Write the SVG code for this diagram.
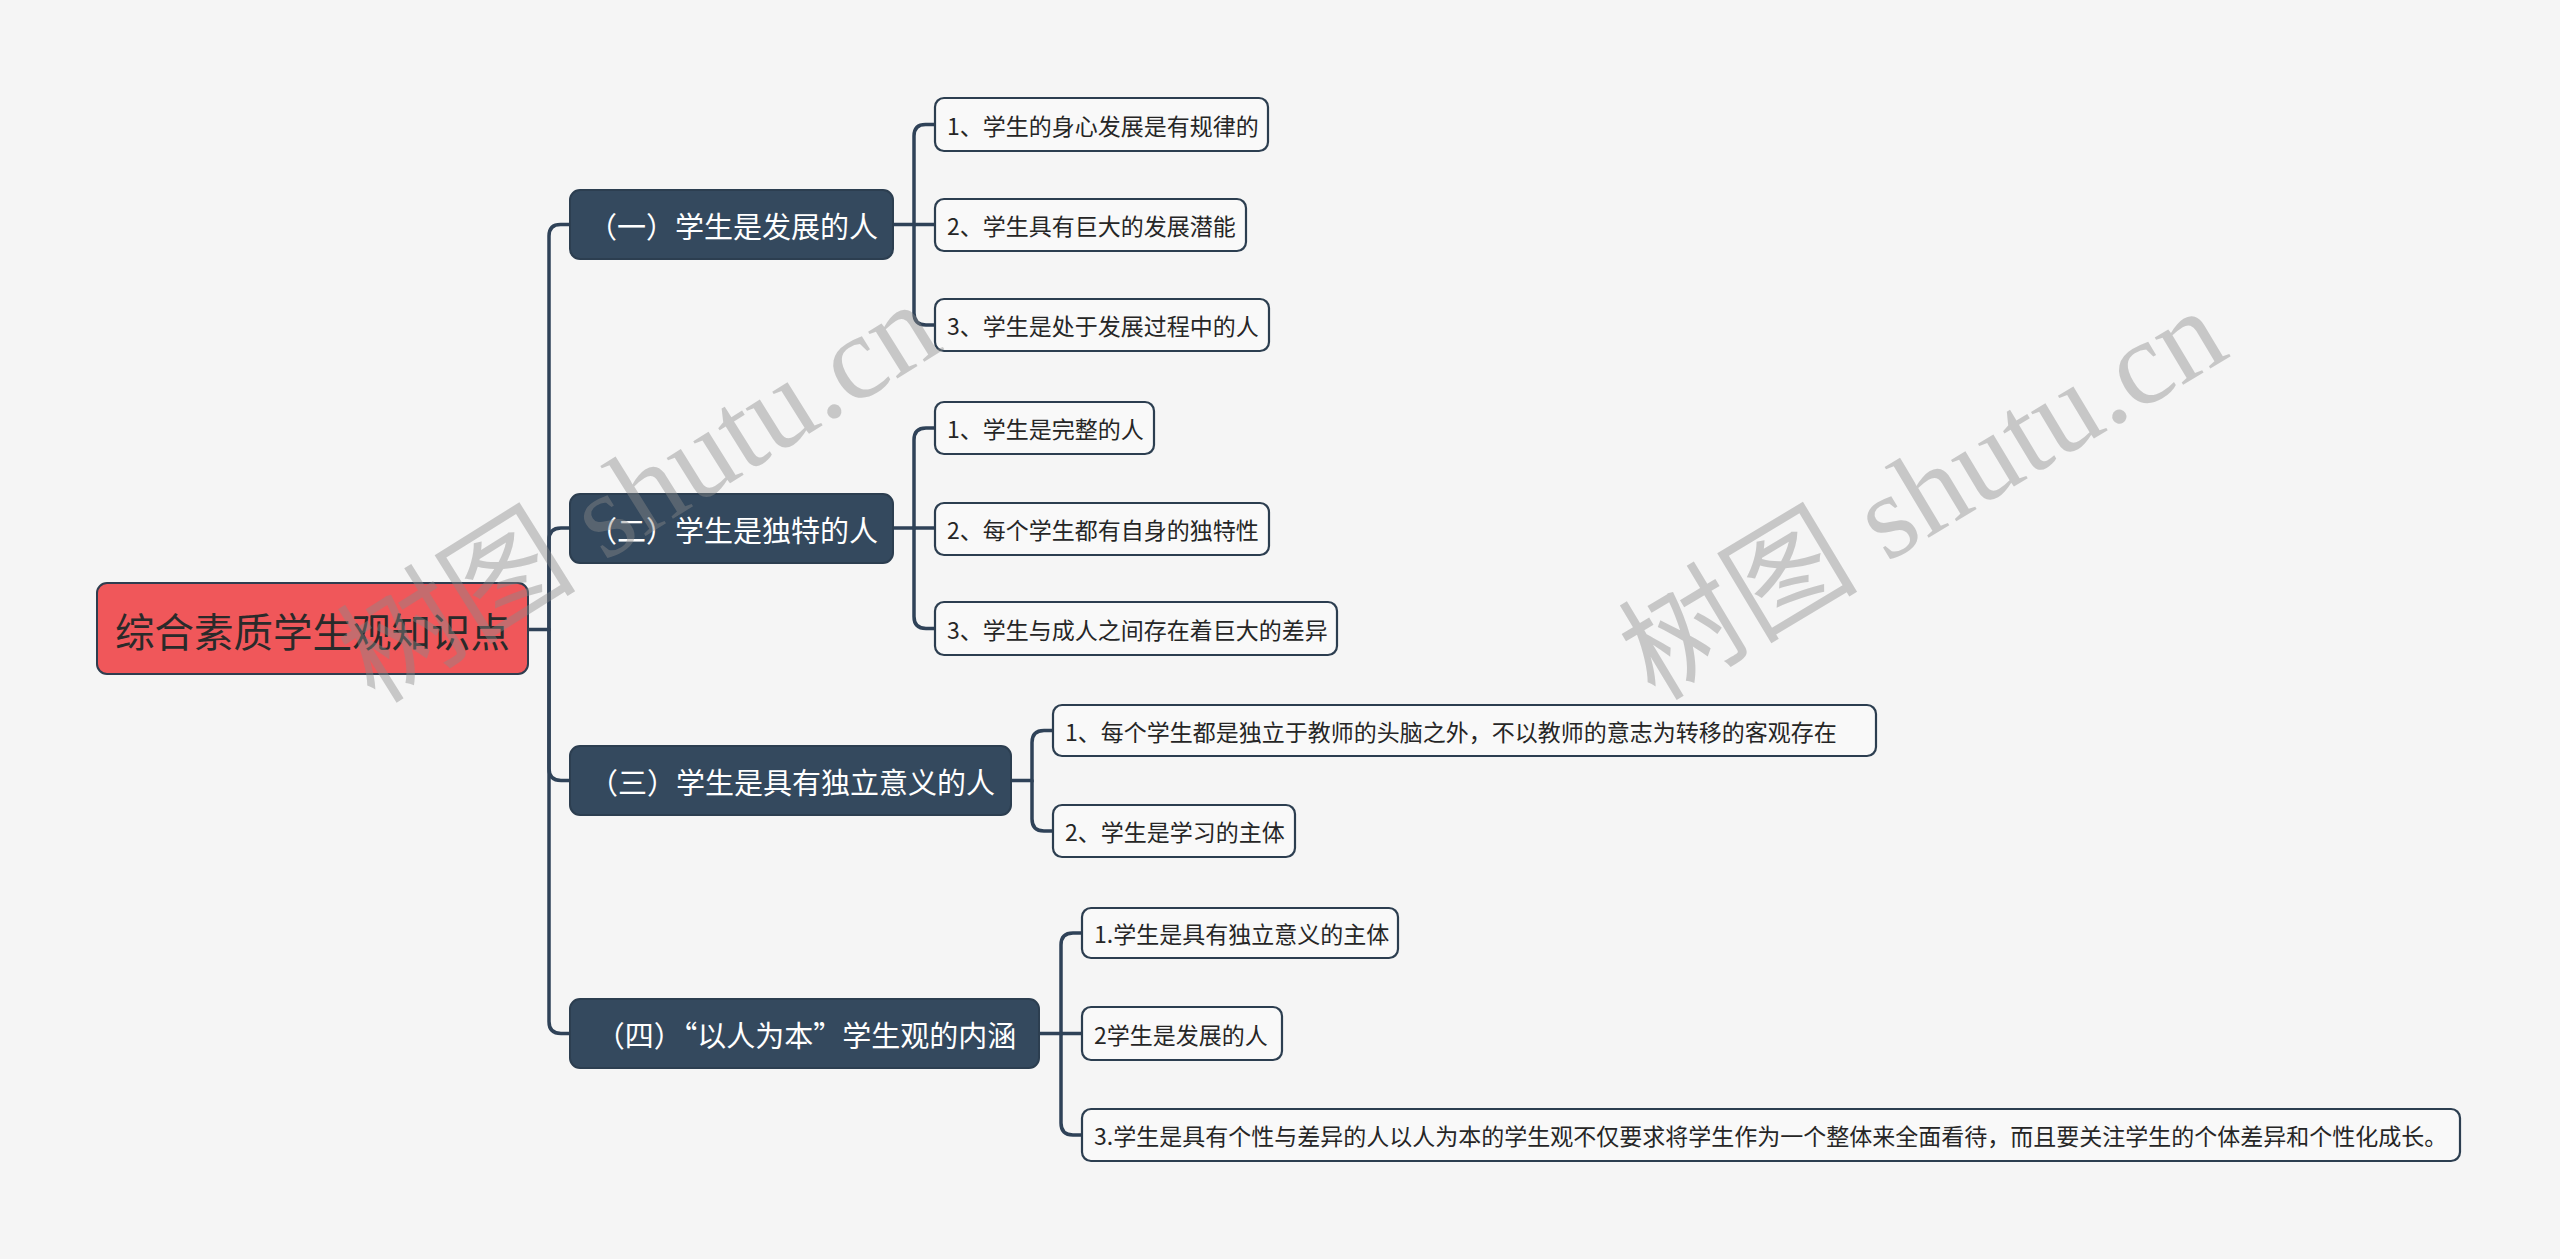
<svg xmlns="http://www.w3.org/2000/svg" width="2560" height="1259" viewBox="0 0 2560 1259">
<style>
.bg{fill:#f5f5f5}
.root rect{fill:#f0575a;stroke:#2f3d4f;stroke-width:2}
.root text{font-family:"Microsoft YaHei","Noto Sans CJK SC",sans-serif;font-size:39.5px;fill:#2a2a2a;text-anchor:middle;dominant-baseline:central}
.br rect{fill:#34495e;stroke:#2c3e50;stroke-width:2}
.br text{font-family:"Noto Sans CJK SC",sans-serif;font-size:29px;fill:#ffffff;text-anchor:middle;dominant-baseline:central}
.leaf rect{fill:#f9f9f9;stroke:#2c3e50;stroke-width:2.2}
.leaf text{font-family:"Noto Sans CJK SC",sans-serif;font-size:23px;fill:#262626;dominant-baseline:central}
.conn path{fill:none;stroke:#2f4258;stroke-width:3.5;stroke-linecap:round}
.wm{font-family:"Liberation Serif","Noto Sans CJK SC",serif;font-size:120px;fill:#8a8a8a;opacity:0.42}
</style>
<rect class="bg" x="0" y="0" width="2560" height="1259"/>

<g id="connectors" class="conn">
  <path d="M528 629.5 H549 V236 Q549 224.5 560.5 224.5 H570"/>
  <path d="M549 629.5 V540 Q549 528 561 528 H570"/>
  <path d="M549 629.5 V768.5 Q549 780.5 561 780.5 H570"/>
  <path d="M549 629.5 V1021.5 Q549 1033.5 561 1033.5 H570"/>
  <path d="M893 224.5 H914 V136 Q914 124.5 925.5 124.5 H935"/>
  <path d="M914 224.5 H935"/>
  <path d="M914 224.5 V313 Q914 325 926 325 H935"/>
  <path d="M893 528 H914 V440 Q914 428 926 428 H935"/>
  <path d="M914 528 H935"/>
  <path d="M914 528 V616.5 Q914 628.5 926 628.5 H935"/>
  <path d="M1011 780.5 H1032 V742.5 Q1032 730.5 1044 730.5 H1053"/>
  <path d="M1032 780.5 V819 Q1032 831 1044 831 H1053"/>
  <path d="M1039 1033.5 H1061 V945 Q1061 933 1073 933 H1082"/>
  <path d="M1061 1033.5 H1082"/>
  <path d="M1061 1033.5 V1123 Q1061 1135 1073 1135 H1082"/>
</g>

<g id="root" class="root">
  <rect x="97" y="583" width="431" height="91" rx="10"/>
  <text x="312.5" y="629">综合素质学生观知识点</text>
</g>

<g id="b1" class="br">
  <rect x="570" y="190" width="323" height="69" rx="10"/>
  <text x="733" y="224.5">（一）学生是发展的人</text>
</g>
<g id="b2" class="br">
  <rect x="570" y="494" width="323" height="69" rx="10"/>
  <text x="733" y="528.5">（二）学生是独特的人</text>
</g>
<g id="b3" class="br">
  <rect x="570" y="746" width="441" height="69" rx="10"/>
  <text x="792" y="780.5">（三）学生是具有独立意义的人</text>
</g>
<g id="b4" class="br">
  <rect x="570" y="999" width="469" height="69" rx="10"/>
  <text x="806" y="1033.5">（四）“以人为本”学生观的内涵</text>
</g>

<g id="l1-1" class="leaf">
  <rect x="935" y="98" width="333" height="53" rx="9"/>
  <text x="947" y="124.5">1、学生的身心发展是有规律的</text>
</g>
<g id="l1-2" class="leaf">
  <rect x="935" y="199" width="311" height="52" rx="9"/>
  <text x="947" y="225">2、学生具有巨大的发展潜能</text>
</g>
<g id="l1-3" class="leaf">
  <rect x="935" y="299" width="334" height="52" rx="9"/>
  <text x="947" y="325">3、学生是处于发展过程中的人</text>
</g>
<g id="l2-1" class="leaf">
  <rect x="935" y="402" width="219" height="52" rx="9"/>
  <text x="947" y="428">1、学生是完整的人</text>
</g>
<g id="l2-2" class="leaf">
  <rect x="935" y="503" width="334" height="52" rx="9"/>
  <text x="947" y="529">2、每个学生都有自身的独特性</text>
</g>
<g id="l2-3" class="leaf">
  <rect x="935" y="602" width="402" height="53" rx="9"/>
  <text x="947" y="628.5">3、学生与成人之间存在着巨大的差异</text>
</g>
<g id="l3-1" class="leaf">
  <rect x="1053" y="705" width="823" height="51" rx="9"/>
  <text x="1065" y="730.5">1、每个学生都是独立于教师的头脑之外，不以教师的意志为转移的客观存在</text>
</g>
<g id="l3-2" class="leaf">
  <rect x="1053" y="805" width="242" height="52" rx="9"/>
  <text x="1065" y="831">2、学生是学习的主体</text>
</g>
<g id="l4-1" class="leaf">
  <rect x="1082" y="908" width="316" height="50" rx="9"/>
  <text x="1094" y="933">1.学生是具有独立意义的主体</text>
</g>
<g id="l4-2" class="leaf">
  <rect x="1082" y="1007" width="200" height="53" rx="9"/>
  <text x="1094" y="1033.5">2学生是发展的人</text>
</g>
<g id="l4-3" class="leaf">
  <rect x="1082" y="1109" width="1378" height="52" rx="9"/>
  <text x="1094" y="1135">3.学生是具有个性与差异的人以人为本的学生观不仅要求将学生作为一个整体来全面看待，而且要关注学生的个体差异和个性化成长。</text>
</g>

<g id="watermarks">
  <text class="wm" x="375" y="705" transform="rotate(-32 375 705)">树图 shutu.cn</text>
  <text class="wm" x="1655" y="702" transform="rotate(-31 1655 702)">树图 shutu.cn</text>
</g>
</svg>
